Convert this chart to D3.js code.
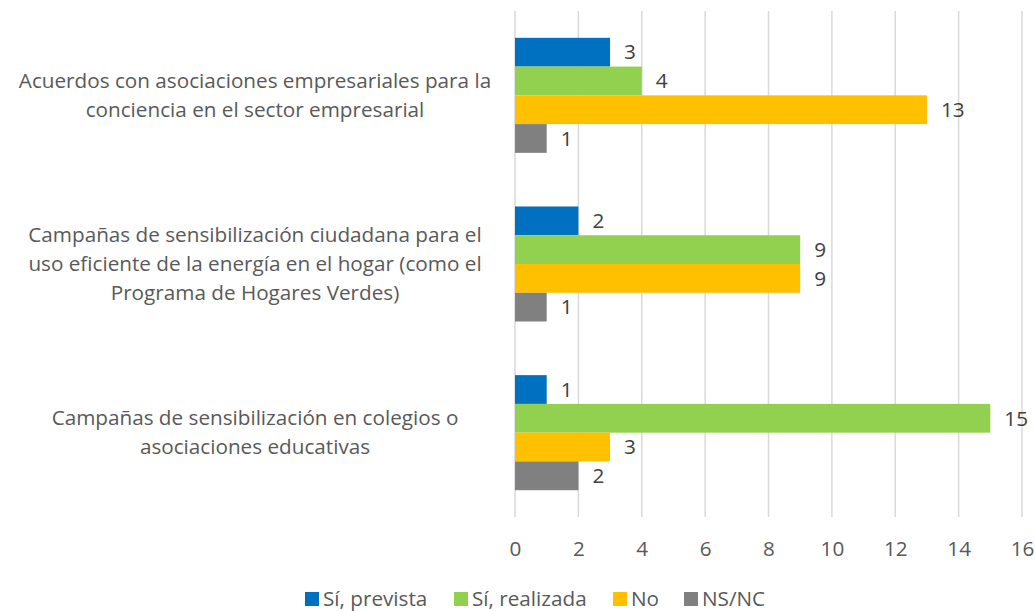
<!DOCTYPE html>
<html><head><meta charset="utf-8">
<script src="https://cdn.jsdelivr.net/npm/d3@7/dist/d3.min.js"></script>
<style>body{margin:0;background:#fff;}svg{display:block;font-family:"Open Sans",sans-serif;}</style>
</head><body><svg id="c" width="1035" height="611"></svg>
<script>
const categories = [
  ["Acuerdos con asociaciones empresariales para la", "conciencia en el sector empresarial"],
  ["Campañas de sensibilización ciudadana para el", "uso eficiente de la energía en el hogar (como el", "Programa de Hogares Verdes)"],
  ["Campañas de sensibilización en colegios o", "asociaciones educativas"]
];
const seriesNames = ["Sí, prevista", "Sí, realizada", "No", "NS/NC"];
const seriesColors = ["#0070C0", "#92D050", "#FFC000", "#808080"];
const prevista = [3, 2, 1];
const realizada = [4, 9, 15];
const no = [13, 9, 3];
const nsnc = [1, 1, 2];
const xTicks = [0, 2, 4, 6, 8, 10, 12, 14, 16];

const values = [prevista, realizada, no, nsnc];
const FS = 20.7;
const svg = d3.select("#c");
const pLeft = 515, pRight = 1022, pTop = 11, pBottom = 517;
const x = d3.scaleLinear().domain([0, 16]).range([pLeft, pRight]);
const y0 = d3.scaleBand().domain(d3.range(categories.length)).range([pTop, pBottom]).paddingInner(0.318).paddingOuter(0.159);
const y1 = d3.scaleBand().domain(d3.range(seriesNames.length)).range([0, y0.bandwidth()]);

// gridlines
svg.append("g").selectAll("line").data(xTicks).join("line")
  .attr("x1", d => x(d)).attr("x2", d => x(d)).attr("y1", pTop).attr("y2", pBottom)
  .attr("stroke", "#D9D9D9").attr("stroke-width", 1.5);

// bars
const g = svg.append("g");
categories.forEach((c, ci) => {
  values.forEach((arr, si) => {
    const v = arr[ci];
    const yy = y0(ci) + y1(si);
    g.append("rect").attr("x", x(0)).attr("y", yy).attr("width", x(v) - x(0)).attr("height", y1.bandwidth())
      .attr("fill", seriesColors[si]);
    g.append("text").attr("x", x(v) + 14).attr("y", yy + y1.bandwidth() / 2).attr("dy", "0.35em")
      .attr("font-size", FS).attr("fill", "#404040").text(v);
  });
});

// x axis labels
const xAxis = d3.axisBottom(x).tickValues(xTicks).tickSize(0).tickPadding(0);
const ax = svg.append("g").attr("transform", `translate(0,${pBottom + 24})`).call(xAxis);
ax.select(".domain").remove();
ax.selectAll("text").attr("font-size", FS).attr("fill", "#595959").attr("font-family", "Open Sans, sans-serif").attr("dy", "0.7em");

// category labels
categories.forEach((lines, ci) => {
  const cy = y0(ci) + y0.bandwidth() / 2;
  const lh = 29;
  const t = svg.append("text").attr("text-anchor", "middle").attr("font-size", FS).attr("fill", "#595959");
  lines.forEach((l, li) => {
    t.append("tspan").attr("x", 255).attr("y", cy + (li - (lines.length - 1) / 2) * lh).attr("dy", "0.35em").text(l);
  });
});

// legend
const legX = [305, 454, 613, 684];
seriesNames.forEach((s, i) => {
  const lg = svg.append("g").attr("transform", `translate(${legX[i]},599)`);
  lg.append("rect").attr("x", 0).attr("y", -7).attr("width", 14).attr("height", 14).attr("fill", seriesColors[i]);
  lg.append("text").attr("x", 18).attr("y", 0).attr("dy", "0.35em").attr("font-size", FS).attr("fill", "#595959").text(s);
});
</script></body></html>
